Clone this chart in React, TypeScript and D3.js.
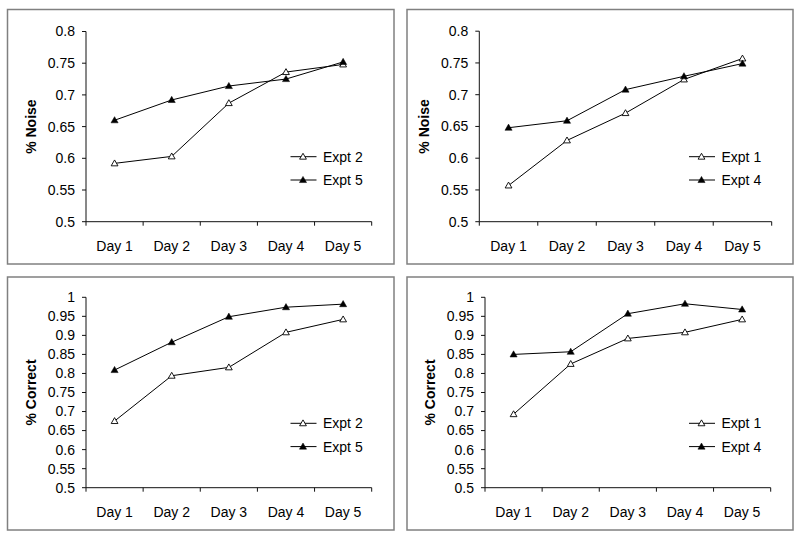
import React from "react";
import * as d3 from "d3";

const days = ["Day 1", "Day 2", "Day 3", "Day 4", "Day 5"];

const noiseExpt2 = [0.592, 0.603, 0.687, 0.736, 0.748];
const noiseExpt5 = [0.66, 0.692, 0.714, 0.725, 0.752];
const noiseExpt1 = [0.557, 0.628, 0.671, 0.724, 0.757];
const noiseExpt4 = [0.648, 0.659, 0.708, 0.729, 0.749];

const correctExpt2 = [0.675, 0.794, 0.816, 0.908, 0.942];
const correctExpt5 = [0.809, 0.882, 0.949, 0.974, 0.982];
const correctExpt1 = [0.693, 0.825, 0.892, 0.908, 0.942];
const correctExpt4 = [0.85, 0.857, 0.957, 0.983, 0.968];

const noiseDomain = [0.5, 0.8];
const correctDomain = [0.5, 1];
const tickStep = 0.05;

type Series = { name: string; values: number[]; filled: boolean };
type Panel = {
  frame: [number, number, number, number];
  plot: [number, number, number, number]; // left, top, right, bottom
  domain: number[];
  yLabel: string;
  series: Series[];
  legend: [number, number];
};

const panels: Panel[] = [
  {
    frame: [7.5, 9.5, 394, 264],
    plot: [86, 31.5, 371.7, 221.7],
    domain: noiseDomain,
    yLabel: "% Noise",
    series: [
      { name: "Expt 2", values: noiseExpt2, filled: false },
      { name: "Expt 5", values: noiseExpt5, filled: true },
    ],
    legend: [290.5, 156.7],
  },
  {
    frame: [407, 9.5, 793, 264],
    plot: [479.3, 31.2, 771.7, 221.7],
    domain: noiseDomain,
    yLabel: "% Noise",
    series: [
      { name: "Expt 1", values: noiseExpt1, filled: false },
      { name: "Expt 4", values: noiseExpt4, filled: true },
    ],
    legend: [689, 156.7],
  },
  {
    frame: [7.5, 277, 394, 530],
    plot: [86, 297.3, 371.7, 487.7],
    domain: correctDomain,
    yLabel: "% Correct",
    series: [
      { name: "Expt 2", values: correctExpt2, filled: false },
      { name: "Expt 5", values: correctExpt5, filled: true },
    ],
    legend: [290.5, 423.3],
  },
  {
    frame: [407, 277, 793, 530],
    plot: [485, 297.3, 770.7, 487.7],
    domain: correctDomain,
    yLabel: "% Correct",
    series: [
      { name: "Expt 1", values: correctExpt1, filled: false },
      { name: "Expt 4", values: correctExpt4, filled: true },
    ],
    legend: [689, 423.3],
  },
];

const FONT = "'Liberation Sans', Arial, Helvetica, sans-serif";
const fmt = (v: number) => String(+v.toFixed(2));

function Triangle({ x, y, filled }: { x: number; y: number; filled: boolean }) {
  const sym = d3.symbol().type(d3.symbolTriangle).size(filled ? 22 : 20)();
  return (
    <path
      d={sym || ""}
      transform={`translate(${x},${y + 0.5})`}
      fill={filled ? "#000" : "#fff"}
      stroke="#000"
      strokeWidth={filled ? 0.5 : 0.9}
    />
  );
}

function PanelView({ p }: { p: Panel }) {
  const [l, t, r, b] = p.plot;
  const x = d3.scaleBand<string>().domain(days).range([l, r]).padding(0);
  const y = d3.scaleLinear().domain(p.domain).range([b, t]);
  const ticks = d3.range(p.domain[0], p.domain[1] + 1e-9, tickStep);
  const line = d3
    .line<number>()
    .x((_, i) => (x(days[i]) as number) + x.bandwidth() / 2)
    .y((v) => y(v));
  const [fx, fy, fx2, fy2] = p.frame;
  const boundaries = d3.range(days.length + 1).map((i) => l + i * x.bandwidth());
  return (
    <g>
      <rect x={fx} y={fy} width={fx2 - fx} height={fy2 - fy} fill="#fff" stroke="#808080" strokeWidth={1.5} />
      <line x1={l} x2={l} y1={t} y2={b} stroke="#111" strokeWidth={1} />
      {ticks.map((tv) => (
        <g key={tv}>
          <line x1={l - 4} x2={l} y1={y(tv)} y2={y(tv)} stroke="#111" strokeWidth={1} />
          <text
            x={l - 11}
            y={y(tv)}
            dy="0.35em"
            textAnchor="end"
            fontFamily={FONT}
            fontSize={14}
            fill="#000"
          >
            {fmt(tv)}
          </text>
        </g>
      ))}
      <line x1={l} x2={r} y1={b} y2={b} stroke="#111" strokeWidth={1} />
      {boundaries.map((bx, i) => (
        <line key={i} x1={bx} x2={bx} y1={b} y2={b + 4} stroke="#111" strokeWidth={1} />
      ))}
      {days.map((d) => (
        <text
          key={d}
          x={(x(d) as number) + x.bandwidth() / 2}
          y={b + 29}
          textAnchor="middle"
          fontFamily={FONT}
          fontSize={14}
          fill="#000"
        >
          {d}
        </text>
      ))}
      <text
        transform={`translate(${l - 50},${(t + b) / 2}) rotate(-90)`}
        textAnchor="middle"
        fontFamily={FONT}
        fontSize={14}
        fontWeight="bold"
        fill="#000"
      >
        {p.yLabel}
      </text>
      {p.series.map((s) => (
        <g key={s.name}>
          <path d={line(s.values) || ""} fill="none" stroke="#000" strokeWidth={1} />
          {s.values.map((v, i) => (
            <Triangle key={i} x={(x(days[i]) as number) + x.bandwidth() / 2} y={y(v)} filled={s.filled} />
          ))}
        </g>
      ))}
      {p.series.map((s, i) => {
        const lx = p.legend[0];
        const ly = p.legend[1] + i * 23.3;
        return (
          <g key={"lg" + s.name}>
            <line x1={lx} x2={lx + 26} y1={ly} y2={ly} stroke="#000" strokeWidth={1} />
            <Triangle x={lx + 12.5} y={ly} filled={s.filled} />
            <text x={lx + 32.5} y={ly} dy="0.36em" fontFamily={FONT} fontSize={14} fill="#000">
              {s.name}
            </text>
          </g>
        );
      })}
    </g>
  );
}

export default function App() {
  return (
    <svg
      width={800}
      height={538}
      style={{ position: "absolute", left: 0, top: 0, background: "#fff" }}
    >
      <rect x={0} y={0} width={800} height={538} fill="#fff" />
      {panels.map((p, i) => (
        <PanelView key={i} p={p} />
      ))}
    </svg>
  );
}
